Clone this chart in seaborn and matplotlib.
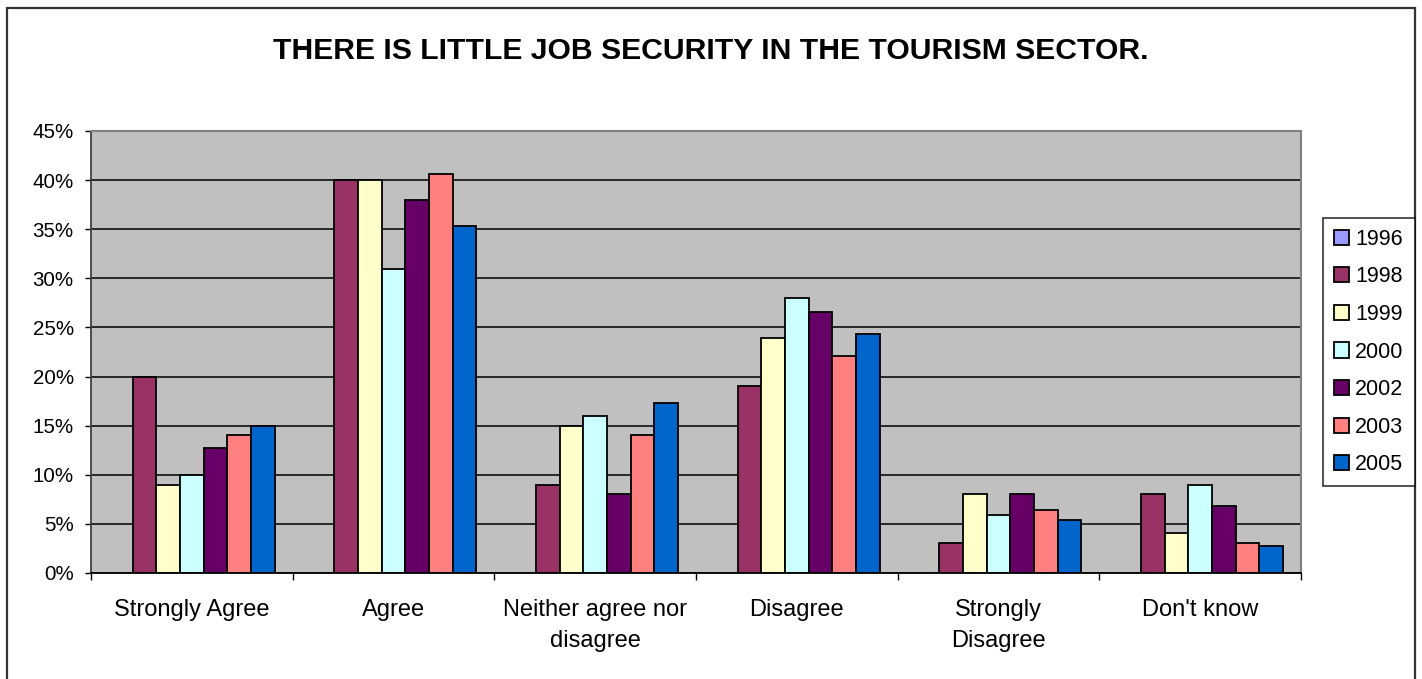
import matplotlib
matplotlib.use("Agg")
import matplotlib.pyplot as plt
from matplotlib.patches import Patch, Rectangle
from matplotlib.ticker import FuncFormatter
import pandas as pd
import seaborn as sns

# Survey responses (% of respondents) by year
categories = ["Strongly Agree", "Agree", "Neither agree nor\ndisagree",
              "Disagree", "Strongly\nDisagree", "Don't know"]
years = ["1996", "1998", "1999", "2000", "2002", "2003", "2005"]
y1998 = [20.0, 40.0, 9.0, 19.0, 3.1, 8.0]
y1999 = [9.0, 40.0, 15.0, 23.9, 8.0, 4.1]
y2000 = [10.0, 31.0, 16.0, 28.0, 5.9, 9.0]
y2002 = [12.7, 38.0, 8.0, 26.6, 8.0, 6.8]
y2003 = [14.0, 40.6, 14.0, 22.1, 6.4, 3.1]
y2005 = [15.0, 35.3, 17.3, 24.3, 5.4, 2.75]
yticks = [0, 5, 10, 15, 20, 25, 30, 35, 40, 45]

series = {"1998": y1998, "1999": y1999, "2000": y2000,
          "2002": y2002, "2003": y2003, "2005": y2005}
colors = {"1996": "#9999FF", "1998": "#993366", "1999": "#FFFFCC",
          "2000": "#CCFFFF", "2002": "#660066", "2003": "#FF8080",
          "2005": "#0066CC"}

rows = []
for yr, vals in series.items():
    for cat, v in zip(categories, vals):
        rows.append({"category": cat, "year": yr, "pct": v})
df = pd.DataFrame(rows)

sns.set_style("white")
plt.rcParams["font.family"] = ["Liberation Sans", "DejaVu Sans"]
plt.rcParams["text.color"] = "black"
plt.rcParams["xtick.color"] = "black"
plt.rcParams["ytick.color"] = "black"
plt.rcParams["axes.labelcolor"] = "black"

fig = plt.figure(figsize=(14.22, 6.79), dpi=100)
ax = fig.add_axes([91 / 1422, 1 - 573 / 679, (1301 - 91) / 1422, (573 - 131) / 679])

sns.barplot(data=df, x="category", y="pct", hue="year", order=categories,
            hue_order=years, palette=colors, width=0.822, gap=0,
            edgecolor="black", linewidth=1.3, saturation=1, legend=False, ax=ax)

ax.set_facecolor("#C0C0C0")
ax.set_xlim(-0.5, len(categories) - 0.5)
ax.set_ylim(0, 45)
ax.set_yticks(yticks)
ax.yaxis.set_major_formatter(FuncFormatter(lambda v, _: f"{v:.0f}%"))
ax.set_axisbelow(True)
ax.yaxis.grid(True, color="black", linewidth=1.1)
ax.get_ygridlines()[-1].set_visible(False)
ax.xaxis.grid(False)

ax.set_xlabel("")
ax.set_ylabel("")
ax.tick_params(axis="y", length=4.5, width=1, color="black", pad=8,
               labelsize=14.8, labelcolor="black", left=True)
ax.set_xticks([i - 0.5 for i in range(len(categories) + 1)], minor=True)
ax.tick_params(axis="x", which="minor", length=5, width=1, color="black", bottom=True)
ax.tick_params(axis="x", which="major", length=0, pad=19, labelsize=17,
               labelcolor="black")
for lbl in ax.get_xticklabels():
    lbl.set_linespacing(1.5)
    lbl.set_verticalalignment("top")

for side in ("top", "right"):
    ax.spines[side].set_color("#808080")
    ax.spines[side].set_linewidth(1.5)
ax.spines["left"].set_color("#404040")
ax.spines["left"].set_linewidth(1.3)
ax.spines["bottom"].set_color("black")
ax.spines["bottom"].set_linewidth(1.3)

fig.text(0.5, 1 - 51 / 679, "THERE IS LITTLE JOB SECURITY IN THE TOURISM SECTOR.",
         ha="center", va="center", fontsize=21.7, fontweight="bold", color="black")

handles = [Patch(facecolor=colors[y], edgecolor="black", linewidth=1.3, label=y)
           for y in years]
leg = fig.legend(handles=handles, loc="center left",
                 bbox_to_anchor=(1323 / 1422, 1 - 352 / 679),
                 fontsize=15.5, frameon=True, fancybox=False, edgecolor="black",
                 handlelength=0.7, handleheight=0.7, handletextpad=0.28,
                 labelspacing=0.77, borderpad=0.52, borderaxespad=0)
leg.get_frame().set_linewidth(1.2)
for t in leg.get_texts():
    t.set_color("black")

fig.add_artist(Rectangle((7 / 1422, -0.05), (1415 - 7) / 1422, (679 - 8) / 679 + 0.05,
                         transform=fig.transFigure, fill=False,
                         edgecolor="#333333", linewidth=1.6))

fig.savefig("out.png", dpi=100, facecolor="white")
